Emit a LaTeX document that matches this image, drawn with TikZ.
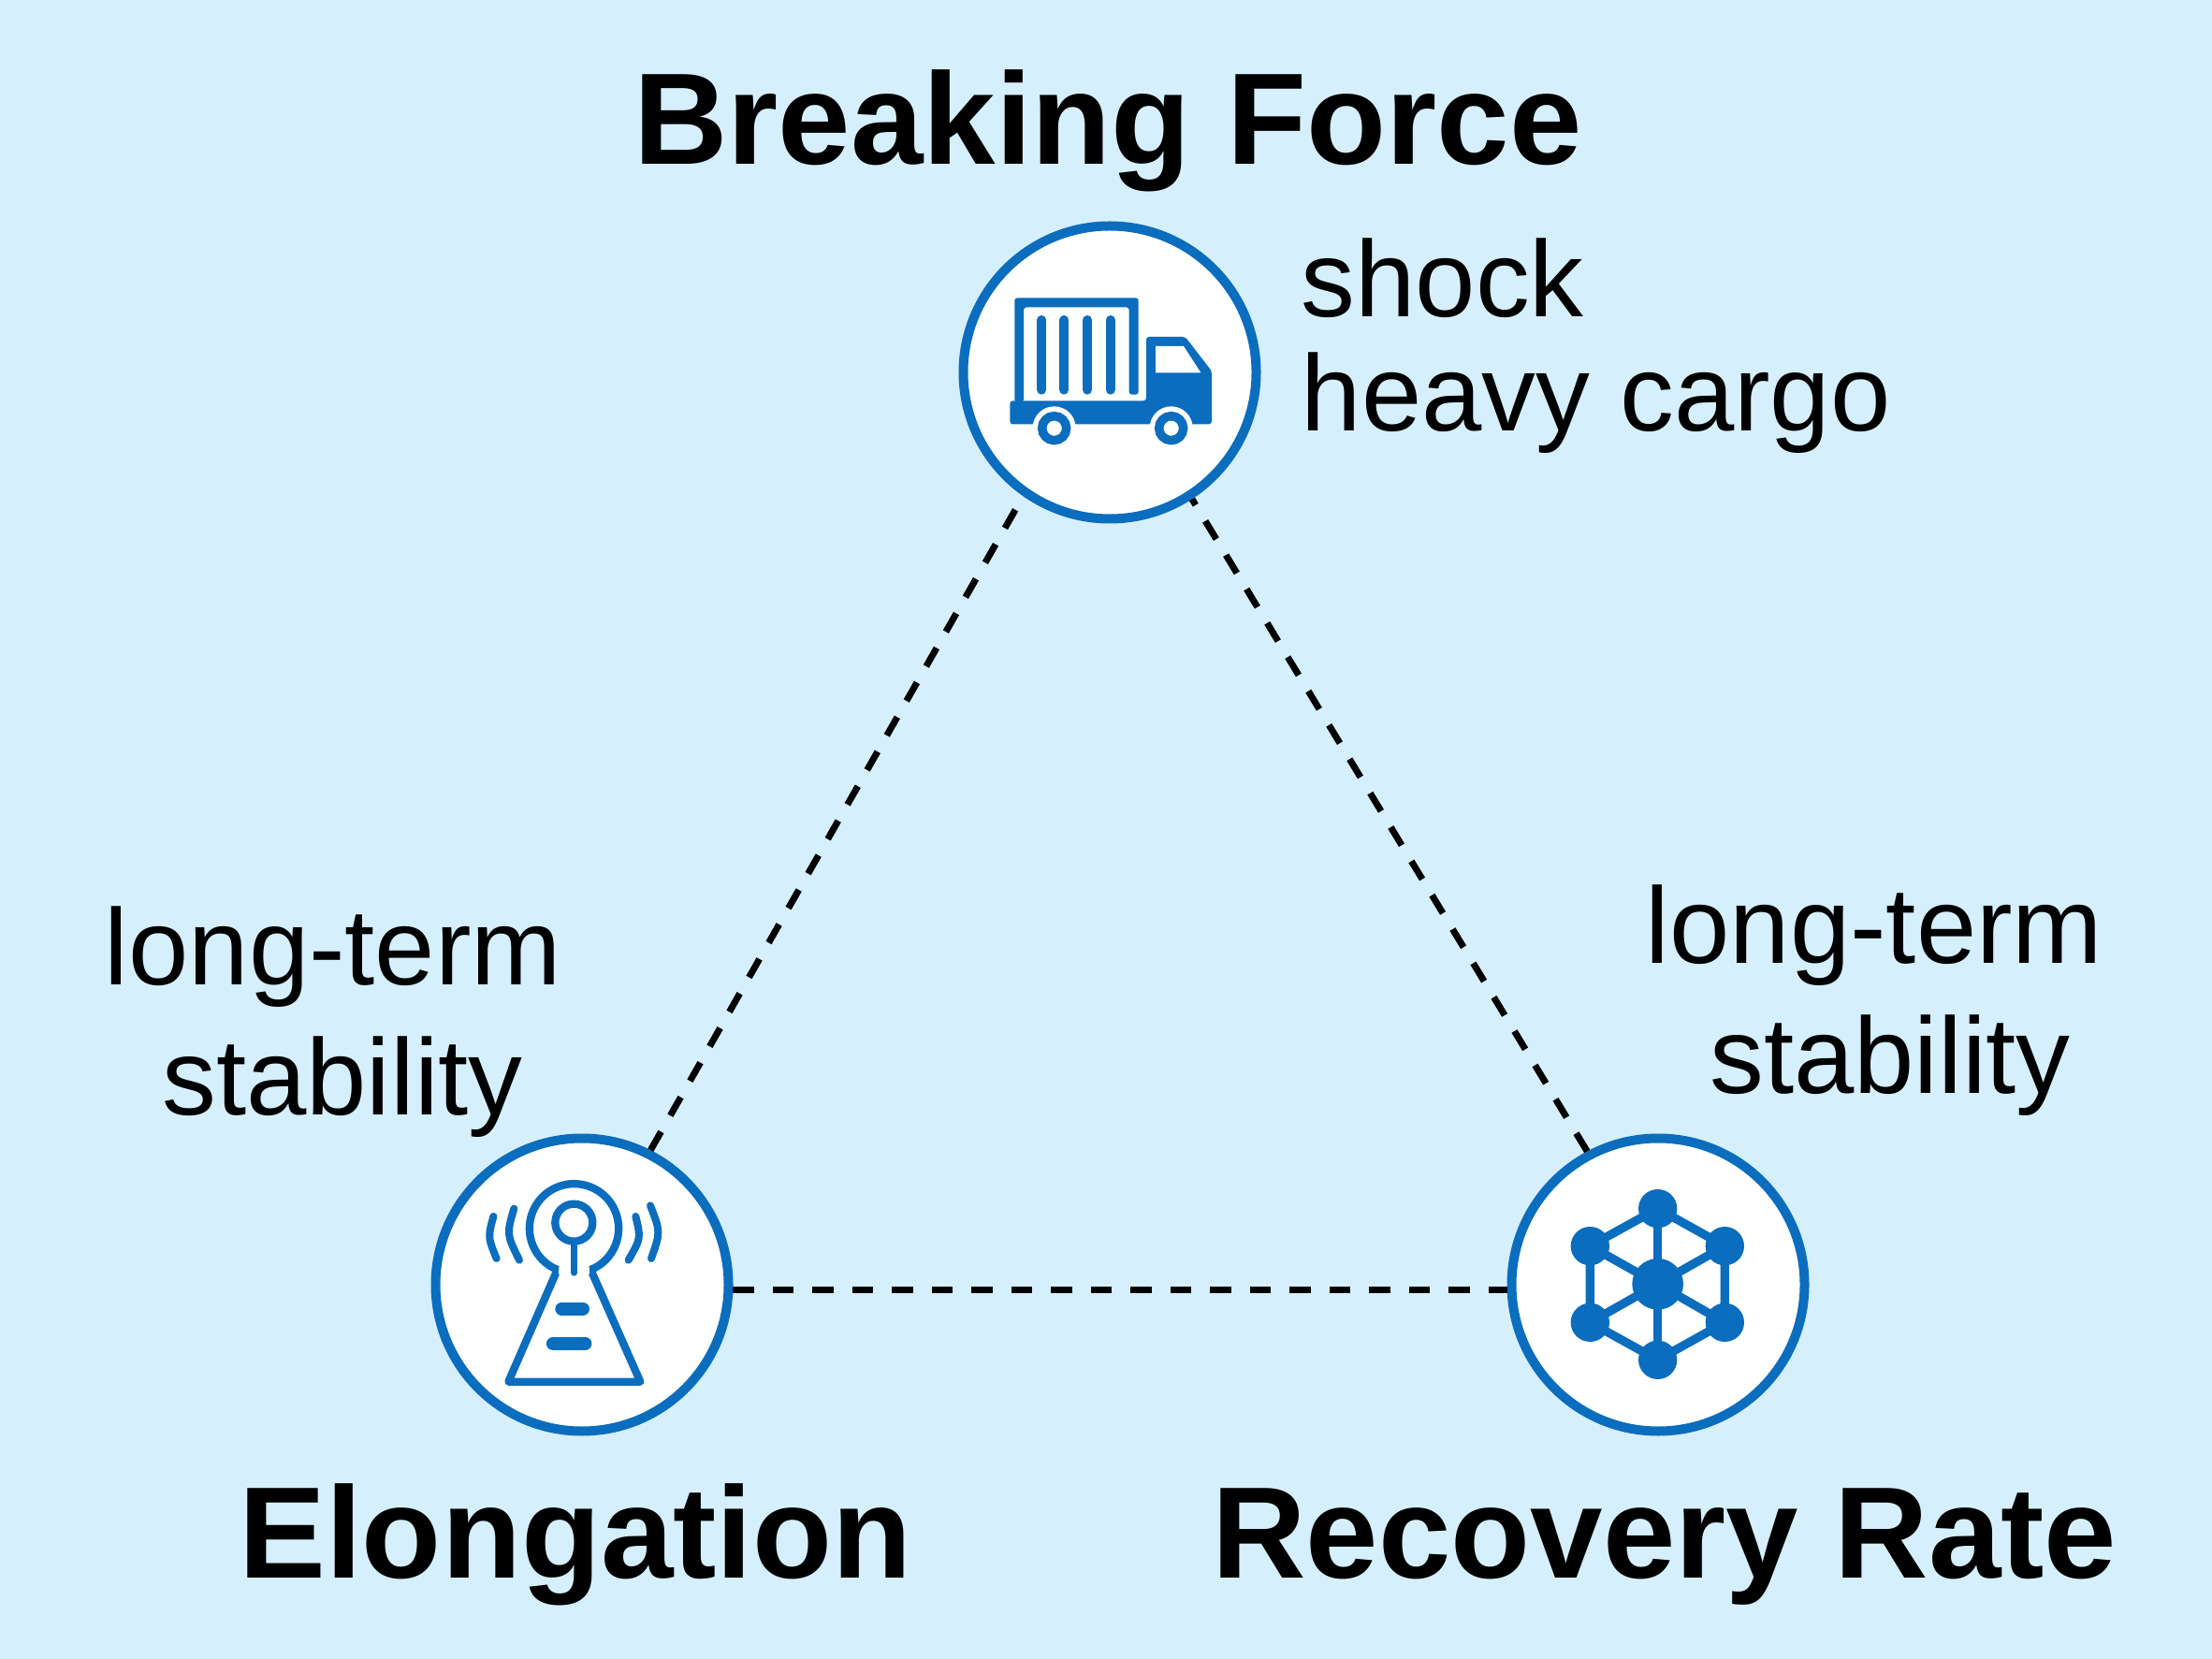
\documentclass[tikz,border=0pt]{standalone}
\usepackage{fontspec}
\setmainfont{Liberation Sans}
\newlength{\du}
\setlength{\du}{0.25pt}
\definecolor{skycolor}{rgb}{0.840000, 0.937000, 0.988000}
\definecolor{ringcolor}{rgb}{0.043000, 0.427000, 0.745000}
\tikzset{
  titletext/.style={font=\fontsize{34.8pt}{40pt}\selectfont\bfseries,text=black,inner sep=0pt,anchor=base},
  notetext/.style={font=\fontsize{28.9pt}{32pt}\selectfont,text=black,inner sep=0pt,anchor=base},
  ringnode/.style={circle,draw=ringcolor,fill=white,line width=10\du,minimum size=313\du,inner sep=0pt},
  dashlink/.style={draw=black,line width=7\du,dash pattern=on 22.5\du off 20\du},
  iconfill/.style={fill=ringcolor},
  iconline/.style={draw=ringcolor,line cap=round,line join=round},
  zoomed/.style={x=0.333333\du,y=0.333333\du}
}

\begin{document}
\begin{tikzpicture}
\pgftransformxscale{1.000000}
\pgftransformyscale{-1.000000}
\fill[skycolor] (0\du,0\du) rectangle (2364\du,1773\du);
\useasboundingbox (0\du,0\du) rectangle (2364\du,1773\du);
% rings
\node[ringnode] (breaking) at (1186\du,398\du){};
\node[ringnode] (elongation) at (622\du,1373\du){};
\node[ringnode] (recovery) at (1772\du,1373\du){};
% dashed sides
\draw[dashlink] (elongation.63)--(breaking.235);
\draw[dashlink] (recovery.118)--(breaking.303);
\draw[dashlink] (elongation.358)--(recovery.182);
% titles
\node[titletext] (breakingtitle) at (1184\du,176\du){Breaking Force};
\node[titletext] (elongationtitle) at (615\du,1686\du){Elongation};
\node[titletext] (recoverytitle) at (1779\du,1686\du){Recovery Rate};
% notes
\node[notetext,anchor=base west] (shocknote) at (1390\du,339\du){shock};
\node[notetext,anchor=base west] (cargonote) at (1390\du,461\du){heavy cargo};
\node[notetext] (elongationlong) at (356\du,1052\du){long-term};
\node[notetext] (elongationstable) at (366\du,1191\du){stability};
\node[notetext] (recoverylong) at (2003\du,1030\du){long-term};
\node[notetext] (recoverystable) at (2020\du,1168\du){stability};
% truck
\begin{scope}[shift={(1000\du,220\du)},zoomed]
\fill[iconfill,rounded corners=3\du] (253,630)--(253,295)--(650,295)--(650,605)--(620,605)--(620,325)--(282,325)--(282,630)--cycle;
\foreach \slatx in {340,412,486,560}
  \draw[iconline,line width=10\du] (\slatx,366)--(\slatx,590);
\fill[iconfill,rounded corners=3\du] (238,700)--(238,625)--(675,625)--(675,420)--(800,420)--(885,530)--(885,700)--cycle;
\fill[white] (705,450)--(795,450)--(850,535)--(705,535)--cycle;
\foreach \wheelx in {380,755} {
  \fill[white] (\wheelx,712) circle[radius=69];
  \draw[draw=ringcolor,line width=9.5\du] (\wheelx,713) circle[radius=39];
}
\end{scope}
% antenna
\begin{scope}[shift={(440\du,1195\du)},zoomed]
\draw[iconline,line width=8.3\du] (467,486) arc[start angle=112,end angle=428,radius=143]--(733,845)--(310,845)--cycle;
\fill[white] (472,478)--(570,478)--(570,500)--(472,500)--cycle;
\draw[iconline,line width=8.3\du] (520,335) circle[radius=60];
\draw[iconline,line width=7.5\du] (520,400)--(520,495);
\draw[iconline,line width=14\du] (481,611)--(549,611);
\draw[iconline,line width=14.3\du] (453,723)--(556,723);
\draw[iconline,line width=8\du] (262,315) .. controls (244,382) .. (272,450);
\draw[iconline,line width=8\du] (328,290) .. controls (304,372) .. (345,455);
\draw[iconline,line width=8\du] (718,315) .. controls (735,385) .. (695,455);
\draw[iconline,line width=8\du] (765,280) .. controls (798,365) .. (768,450);
\end{scope}
% network
\begin{scope}[shift={(1590\du,1195\du)},zoomed]
\draw[draw=ringcolor,line width=9.3\du] (545,290)--(760,410)--(760,655)--(545,775)--(328,655)--(328,410)--cycle;
\foreach \px/\py in {545/290,760/410,760/655,545/775,328/655,328/410} {
  \draw[draw=ringcolor,line width=9.3\du] (545,532)--(\px,\py);
  \fill[iconfill] (\px,\py) circle[radius=62];
}
\fill[iconfill] (545,532) circle[radius=82];
\end{scope}
\end{tikzpicture}
\end{document}
